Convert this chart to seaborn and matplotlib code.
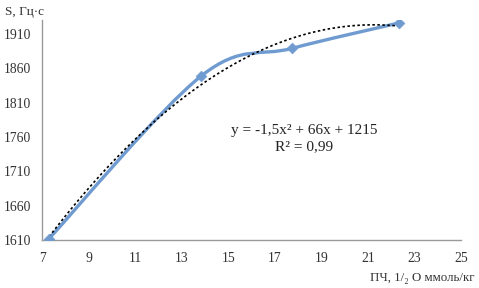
import numpy as np
import pandas as pd
import matplotlib
matplotlib.use("Agg")
import matplotlib.pyplot as plt
import seaborn as sns
from matplotlib.path import Path
from matplotlib.patches import PathPatch

# values
pch = [7.3, 13.85, 17.75, 22.35]
s_hz = [1612, 1849, 1889, 1926]
x_ticks = [7, 9, 11, 13, 15, 17, 19, 21, 23, 25]
y_ticks = [1610, 1660, 1710, 1760, 1810, 1860, 1910]

line_color = "#6f9bd0"
grid_color = "#9a9a9a"

df = pd.DataFrame({"pch": pch, "s": s_hz})

sns.set_style("white")
plt.rcParams["font.family"] = ["Liberation Serif", "DejaVu Serif"]

fig = plt.figure(figsize=(4.79, 2.88), dpi=100)
ax = fig.add_axes([0.088, 0.167, 0.874, 0.763])

# polynomial trendline (order 2), dotted black
sns.regplot(data=df, x="pch", y="s", order=2, ci=None, scatter=False, ax=ax,
            line_kws={"color": "black", "linestyle": (0, (1.5, 1.5)), "linewidth": 1.2, "zorder": 3})


# smoothed series line, drawn as Catmull-Rom style bezier through the data
def smooth_path(xs, ys, t=0.5 / 3):
    pts = np.column_stack([xs, ys]).astype(float)
    verts = [pts[0]]
    codes = [Path.MOVETO]
    n = len(pts)
    for i in range(n - 1):
        p0 = pts[i - 1] if i > 0 else pts[i]
        p1 = pts[i]
        p2 = pts[i + 1]
        p3 = pts[i + 2] if i + 2 < n else pts[i + 1]
        c1 = p1 + (p2 - p0) * t
        c2 = p2 - (p3 - p1) * t
        verts += [c1, c2, p2]
        codes += [Path.CURVE4] * 3
    return Path(verts, codes)


ax.add_patch(PathPatch(smooth_path(df["pch"], df["s"]), facecolor="none",
                       edgecolor=line_color, linewidth=2.4, zorder=2))
sns.scatterplot(data=df, x="pch", y="s", marker="D", s=30, color=line_color,
                edgecolor=line_color, ax=ax, zorder=4)

ax.set_xlim(7, 25)
ax.set_ylim(1610, 1930)
ax.set_xticks(x_ticks)
ax.set_yticks(y_ticks)
ax.set_xlabel("")
ax.set_ylabel("")
ax.tick_params(axis="both", labelsize=9.8, colors="#333333", length=3, width=0.8, color=grid_color)
ax.tick_params(axis="x", direction="inout", length=5, pad=6)
ax.tick_params(axis="y", direction="out", length=4, pad=4)

for side in ["top", "right"]:
    ax.spines[side].set_visible(False)
for side in ["left", "bottom"]:
    ax.spines[side].set_color(grid_color)
    ax.spines[side].set_linewidth(1.0)

fig.text(0.01, 0.957, "S, Гц·с", fontsize=9.5, color="#333333", va="center")
fig.text(0.99, 0.035, "ПЧ, 1/₂ О ммоль/кг", fontsize=9.3, color="#333333", ha="right", va="center")

ax.text(18.25, 1770, "y = -1,5x² + 66x + 1215", fontsize=11, ha="center", va="center", color="#222222")
ax.text(18.25, 1746, "R² = 0,99", fontsize=11, ha="center", va="center", color="#222222")

fig.savefig("out.png", dpi=100)
plt.close(fig)
